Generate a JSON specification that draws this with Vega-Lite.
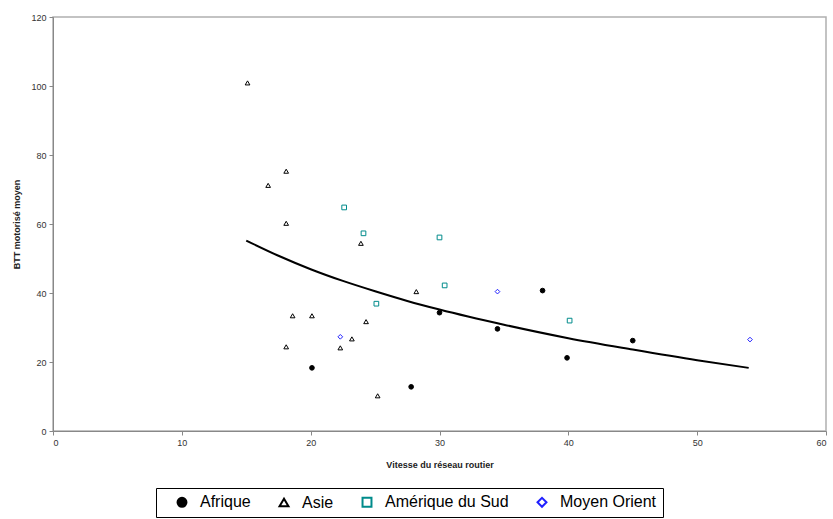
{
  "$schema": "https://vega.github.io/schema/vega-lite/v6.json",
  "width": 773,
  "height": 414,
  "autosize": {"type": "none"},
  "padding": {"left": 53, "top": 17, "right": 7, "bottom": 88},
  "background": "white",
  "datasets": {
    "points": [
      {"region": "Asie", "vitesse": 15.1, "btt": 100.9},
      {"region": "Asie", "vitesse": 16.7, "btt": 71.2},
      {"region": "Asie", "vitesse": 18.1, "btt": 75.3},
      {"region": "Asie", "vitesse": 18.1, "btt": 60.2},
      {"region": "Asie", "vitesse": 18.6, "btt": 33.4},
      {"region": "Asie", "vitesse": 20.1, "btt": 33.4},
      {"region": "Asie", "vitesse": 18.1, "btt": 24.4},
      {"region": "Asie", "vitesse": 22.3, "btt": 24.1},
      {"region": "Asie", "vitesse": 23.2, "btt": 26.7},
      {"region": "Asie", "vitesse": 24.3, "btt": 31.7},
      {"region": "Asie", "vitesse": 23.9, "btt": 54.4},
      {"region": "Asie", "vitesse": 25.2, "btt": 10.2},
      {"region": "Asie", "vitesse": 28.2, "btt": 40.4},
      {"region": "Afrique", "vitesse": 20.1, "btt": 18.3},
      {"region": "Afrique", "vitesse": 27.8, "btt": 12.8},
      {"region": "Afrique", "vitesse": 30.0, "btt": 34.3},
      {"region": "Afrique", "vitesse": 34.5, "btt": 29.6},
      {"region": "Afrique", "vitesse": 38.0, "btt": 40.7},
      {"region": "Afrique", "vitesse": 39.9, "btt": 21.2},
      {"region": "Afrique", "vitesse": 45.0, "btt": 26.2},
      {"region": "Amérique du Sud", "vitesse": 22.6, "btt": 64.8},
      {"region": "Amérique du Sud", "vitesse": 24.1, "btt": 57.3},
      {"region": "Amérique du Sud", "vitesse": 30.0, "btt": 56.1},
      {"region": "Amérique du Sud", "vitesse": 30.4, "btt": 42.2},
      {"region": "Amérique du Sud", "vitesse": 25.1, "btt": 36.9},
      {"region": "Amérique du Sud", "vitesse": 40.1, "btt": 32.0},
      {"region": "Moyen Orient", "vitesse": 22.3, "btt": 27.3},
      {"region": "Moyen Orient", "vitesse": 34.5, "btt": 40.4},
      {"region": "Moyen Orient", "vitesse": 54.1, "btt": 26.5}
    ],
    "trend": [
      {"vitesse": 15, "btt": 55.2},
      {"vitesse": 17.5, "btt": 50.8},
      {"vitesse": 20, "btt": 46.9},
      {"vitesse": 22.5, "btt": 43.5},
      {"vitesse": 25, "btt": 40.5},
      {"vitesse": 27.5, "btt": 37.7},
      {"vitesse": 30, "btt": 35.2},
      {"vitesse": 35, "btt": 30.8},
      {"vitesse": 40, "btt": 26.9},
      {"vitesse": 45, "btt": 23.6},
      {"vitesse": 50, "btt": 20.5},
      {"vitesse": 54, "btt": 18.3}
    ]
  },
  "layer": [
    {
      "data": {"name": "trend"},
      "mark": {"type": "line", "color": "black", "strokeWidth": 2, "interpolate": "monotone"},
      "encoding": {
        "x": {"field": "vitesse", "type": "quantitative"},
        "y": {"field": "btt", "type": "quantitative"}
      }
    },
    {
      "data": {"name": "points"},
      "mark": {"type": "point", "size": 22, "strokeWidth": 1, "opacity": 1},
      "encoding": {
        "x": {
          "field": "vitesse",
          "type": "quantitative",
          "title": "Vitesse du réseau routier",
          "scale": {"domain": [0, 60], "nice": false, "zero": true},
          "axis": {"values": [0, 10, 20, 30, 40, 50, 60]}
        },
        "y": {
          "field": "btt",
          "type": "quantitative",
          "title": "BTT motorisé moyen",
          "scale": {"domain": [0, 120], "nice": false},
          "axis": {"values": [0, 20, 40, 60, 80, 100, 120]}
        },
        "shape": {
          "field": "region",
          "type": "nominal",
          "title": null,
          "scale": {
            "domain": ["Afrique", "Asie", "Amérique du Sud", "Moyen Orient"],
            "range": ["circle", "triangle-up", "square", "diamond"]
          }
        },
        "color": {
          "field": "region",
          "type": "nominal",
          "title": null,
          "scale": {
            "domain": ["Afrique", "Asie", "Amérique du Sud", "Moyen Orient"],
            "range": ["#000000", "#000000", "#008B8B", "#2020ff"]
          }
        },
        "fill": {
          "field": "region",
          "type": "nominal",
          "title": null,
          "scale": {
            "domain": ["Afrique", "Asie", "Amérique du Sud", "Moyen Orient"],
            "range": ["#000000", "transparent", "transparent", "transparent"]
          },
          "legend": {
            "labelExpr": "datum.label == 'Moyen Orient' ? 'Moyen Orient\u2003' : datum.label"
          }
        }
      }
    }
  ],
  "config": {
    "font": "Liberation Sans",
    "view": {"stroke": "#b0b0b0", "strokeWidth": 1.5},
    "axis": {
      "grid": false,
      "domainColor": "#888888",
      "tickColor": "#888888",
      "tickSize": 4,
      "labelFontSize": 9,
      "labelColor": "#333333",
      "titleFontSize": 9,
      "titleFontWeight": "bold",
      "titleColor": "#222222"
    },
    "axisX": {"labelPadding": 3, "titlePadding": 13},
    "axisY": {"labelPadding": 3, "titlePadding": 9},
    "legend": {
      "orient": "none",
      "legendX": 103,
      "legendY": 471,
      "direction": "horizontal",
      "strokeColor": "black",
      "strokeWidth": 1,
      "padding": 6,
      "labelFontSize": 16,
      "labelColor": "black",
      "labelOffset": 10,
      "symbolOffset": 12,
      "columnPadding": 13,
      "symbolSize": 80,
      "symbolStrokeWidth": 2
    }
  }
}
